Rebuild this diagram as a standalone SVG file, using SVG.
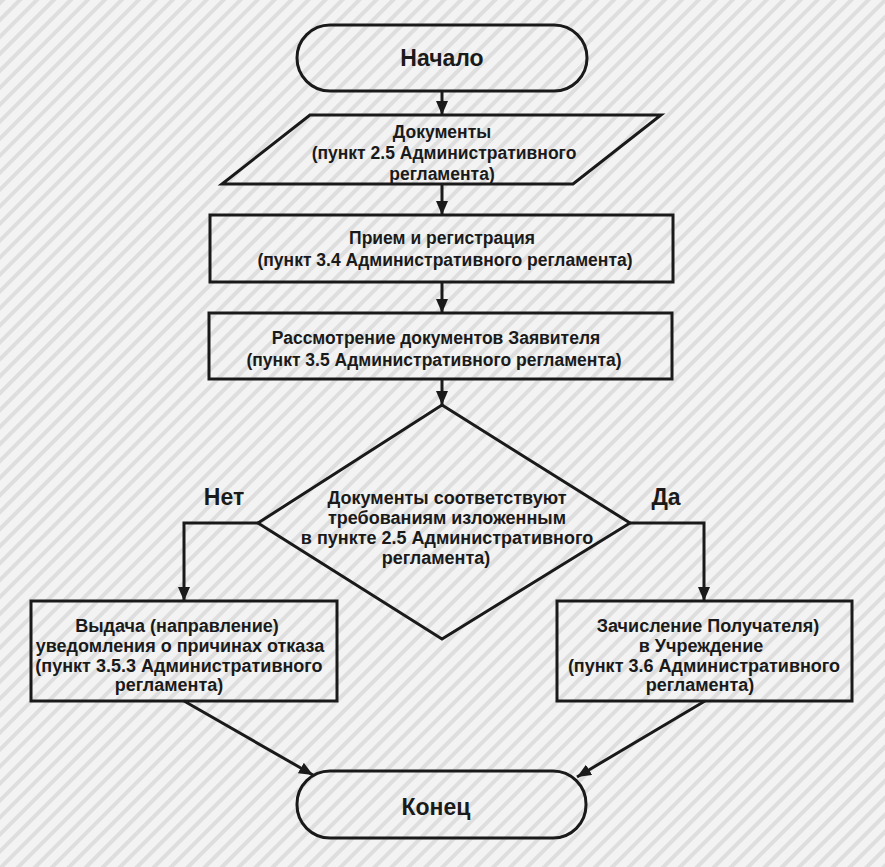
<svg xmlns="http://www.w3.org/2000/svg" width="885" height="867" viewBox="0 0 885 867">
  <defs>
    <pattern id="bg" width="12" height="12" patternUnits="userSpaceOnUse" patternTransform="rotate(45)">
      <rect width="12" height="12" fill="#f3f3f3"/>
      <rect x="0" y="0" width="4" height="12" fill="#dedede"/>
    </pattern>
    <marker id="arr" markerWidth="14" markerHeight="12" refX="14" refY="6" orient="auto" markerUnits="userSpaceOnUse">
      <path d="M0,0 L14,6 L0,12 Z" fill="#1a1a1a"/>
    </marker>
  </defs>
  <style>
    .shape { fill: none; stroke: #1a1a1a; stroke-width: 3; }
    .conn { fill: none; stroke: #1a1a1a; stroke-width: 3; marker-end: url(#arr); }
    text { font-family: "Liberation Sans", Arial, sans-serif; font-weight: bold; fill: #1a1a1a; text-anchor: middle; }
    .t { font-size: 17.5px; }
    .m { font-size: 18px; }
    .big { font-size: 23px; }
  </style>
  <rect width="885" height="867" fill="url(#bg)"/>

  <g id="start">
    <rect class="shape" x="297" y="25" width="290" height="66" rx="33"/>
    <text class="big" x="442" y="66">Начало</text>
  </g>

  <g id="documents">
    <polygon class="shape" points="310,115 661,115 573,184 222,184"/>
    <text class="t" x="442" y="138">Документы</text>
    <text class="t" x="444" y="159">(пункт 2.5 Административного</text>
    <text class="t" x="442" y="180">регламента)</text>
  </g>

  <g id="reception">
    <rect class="shape" x="210" y="215" width="463" height="67"/>
    <text class="t" x="442" y="244">Прием и регистрация</text>
    <text class="t" x="445" y="266">(пункт 3.4 Административного регламента)</text>
  </g>

  <g id="review">
    <rect class="shape" x="209" y="313" width="463" height="66"/>
    <text class="t" x="436" y="344">Рассмотрение документов Заявителя</text>
    <text class="t" x="434" y="366">(пункт 3.5 Административного регламента)</text>
  </g>

  <g id="decision">
    <polygon class="shape" points="442,405 630,523 442,639 258,523"/>
    <text class="m" x="447" y="504">Документы соответствуют</text>
    <text class="m" x="447" y="524">требованиям изложенным</text>
    <text class="m" x="447" y="544">в пункте 2.5 Административного</text>
    <text class="m" x="436" y="564">регламента)</text>
  </g>

  <g id="refusal">
    <rect class="shape" x="31" y="601" width="306" height="100"/>
    <text class="m" x="177" y="632">Выдача (направление)</text>
    <text class="m" x="180" y="652">уведомления о причинах отказа</text>
    <text class="m" x="179" y="672">(пункт 3.5.3 Административного</text>
    <text class="m" x="169" y="691">регламента)</text>
  </g>

  <g id="enrollment">
    <rect class="shape" x="557" y="601" width="295" height="100"/>
    <text class="m" x="708" y="632">Зачисление Получателя)</text>
    <text class="m" x="701" y="652">в Учреждение</text>
    <text class="m" x="704" y="672">(пункт 3.6 Административного</text>
    <text class="m" x="700" y="691">регламента)</text>
  </g>

  <g id="end">
    <rect class="shape" x="297" y="771" width="289" height="67" rx="33"/>
    <text class="big" x="436" y="815">Конец</text>
  </g>

  <g id="connectors">
    <line class="conn" x1="442" y1="91" x2="442" y2="115"/>
    <line class="conn" x1="442" y1="184" x2="442" y2="215"/>
    <line class="conn" x1="442" y1="282" x2="442" y2="313"/>
    <line class="conn" x1="442" y1="379" x2="442" y2="405"/>
    <polyline class="conn" points="258,523 184,523 184,601"/>
    <polyline class="conn" points="630,523 704,523 704,601"/>
    <line class="conn" x1="184" y1="701" x2="313" y2="775"/>
    <line class="conn" x1="705" y1="701" x2="577" y2="777"/>
    <text class="big" x="224" y="505">Нет</text>
    <text class="big" x="666" y="505">Да</text>
  </g>
</svg>
